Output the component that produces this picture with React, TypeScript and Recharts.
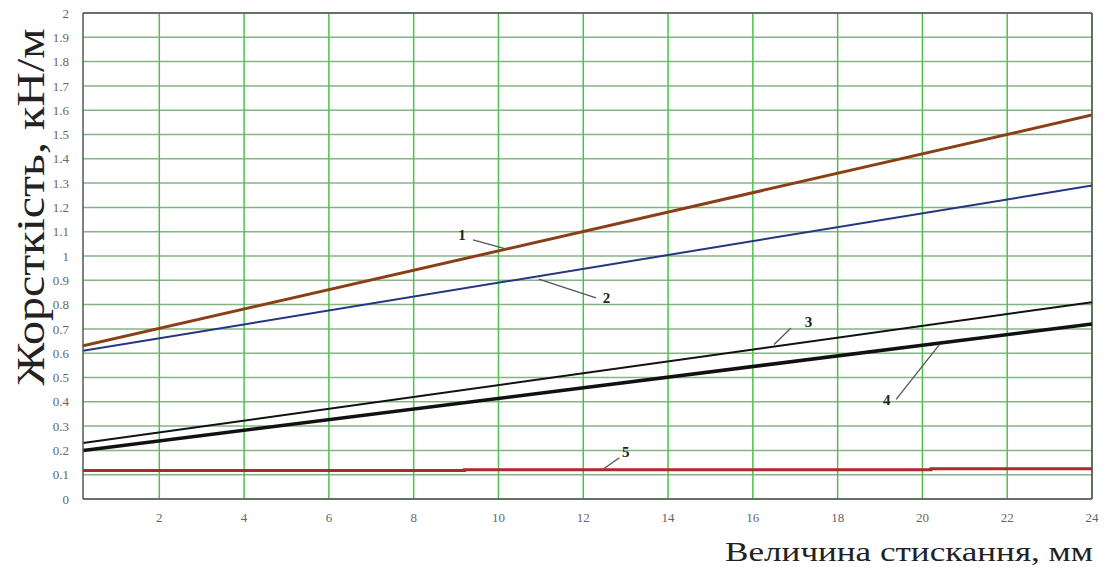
import {
  LineChart,
  Line,
  XAxis,
  YAxis,
  CartesianGrid,
  ReferenceLine,
  ReferenceDot,
} from 'recharts';

// Compression (mm) -> stiffness (kN/m) for each spring variant
const series1 = [
  { x: 0.2, y: 0.63 },
  { x: 24, y: 1.58 },
];
const series2 = [
  { x: 0.2, y: 0.61 },
  { x: 24, y: 1.29 },
];
const series3 = [
  { x: 0.2, y: 0.23 },
  { x: 24, y: 0.81 },
];
const series4 = [
  { x: 0.2, y: 0.2 },
  { x: 24, y: 0.72 },
];
const series5 = [
  { x: 0.2, y: 0.117 },
  { x: 9.2, y: 0.117 },
  { x: 9.2, y: 0.12 },
  { x: 20.2, y: 0.12 },
  { x: 20.2, y: 0.124 },
  { x: 24, y: 0.124 },
];

const xTicks = [2, 4, 6, 8, 10, 12, 14, 16, 18, 20, 22, 24];
const yTicks = [
  0, 0.1, 0.2, 0.3, 0.4, 0.5, 0.6, 0.7, 0.8, 0.9, 1, 1.1, 1.2, 1.3, 1.4, 1.5, 1.6, 1.7, 1.8, 1.9, 2,
];

// curve number labels with their leader lines (data coordinates)
const curveLabels = [
  { text: '1', x: 9.14, y: 1.086, from: [9.4, 1.066], to: [10.15, 1.03] },
  { text: '2', x: 12.55, y: 0.83, from: [12.3, 0.828], to: [10.95, 0.905] },
  { text: '3', x: 17.31, y: 0.728, from: [16.9, 0.704], to: [16.5, 0.636] },
  { text: '4', x: 19.16, y: 0.41, from: [19.38, 0.41], to: [20.4, 0.635] },
  { text: '5', x: 13.0, y: 0.193, from: [12.85, 0.17], to: [12.45, 0.12] },
];

const FONT = '"Liberation Serif", "Times New Roman", serif';

export default function App() {
  return (
    <div style={{ position: 'absolute', left: 0, top: 0, width: 1106, height: 567, background: '#fff' }}>
      <LineChart width={1106} height={567} margin={{ top: 13, right: 14, left: 0, bottom: 0 }}>
        <CartesianGrid
          stroke="#85b385"
          strokeWidth={1.5}
          horizontalValues={yTicks}
          verticalValues={xTicks}
          vertical={false}
        />
        <CartesianGrid
          stroke="#4cc24c"
          strokeWidth={1.5}
          verticalValues={xTicks}
          horizontal={false}
        />
        <XAxis
          type="number"
          dataKey="x"
          domain={[0.2, 24]}
          ticks={xTicks}
          allowDataOverflow
          height={68}
          tickLine={false}
          tickMargin={8}
          axisLine={{ stroke: '#555', strokeWidth: 1.5 }}
          tick={{ fill: '#666', fontSize: 13, fontFamily: FONT }}
        />
        <YAxis
          type="number"
          dataKey="y"
          domain={[0, 2]}
          ticks={yTicks}
          width={83}
          tickLine={false}
          tickMargin={8}
          interval={0}
          axisLine={{ stroke: '#555', strokeWidth: 1.5 }}
          tick={{ fill: '#666', fontSize: 13, fontFamily: FONT }}
        />
        <ReferenceLine y={2} stroke="#555" strokeWidth={1.5} />
        <ReferenceLine x={24} stroke="#555" strokeWidth={1.5} />

        <Line data={series1} dataKey="y" stroke="#8a3f16" strokeWidth={3} dot={false} isAnimationActive={false} />
        <Line data={series2} dataKey="y" stroke="#23367f" strokeWidth={2} dot={false} isAnimationActive={false} />
        <Line data={series3} dataKey="y" stroke="#111" strokeWidth={2} dot={false} isAnimationActive={false} />
        <Line data={series4} dataKey="y" stroke="#111" strokeWidth={3.5} dot={false} isAnimationActive={false} />
        <Line data={series5} dataKey="y" stroke="#b0282a" strokeWidth={3} dot={false} isAnimationActive={false} />

        {curveLabels.map((c) => (
          <ReferenceLine
            key={`l${c.text}`}
            segment={[
              { x: c.from[0], y: c.from[1] },
              { x: c.to[0], y: c.to[1] },
            ]}
            stroke="#555"
            strokeWidth={1.3}
          />
        ))}
        {curveLabels.map((c) => (
          <ReferenceDot
            key={`d${c.text}`}
            x={c.x}
            y={c.y}
            r={0}
            fill="none"
            stroke="none"
            label={{
              value: c.text,
              position: 'center',
              fill: '#222',
              fontSize: 15,
              fontWeight: 'bold',
              fontFamily: FONT,
            }}
          />
        ))}
      </LineChart>
      <div
        style={{
          position: 'absolute',
          left: 30,
          top: 207,
          transform: 'translate(-50%, -50%) rotate(-90deg) scaleX(1.17)',
          whiteSpace: 'nowrap',
          fontFamily: FONT,
          fontSize: 41,
          lineHeight: 1,
          color: '#222',
        }}
      >
        Жорсткість, кН/м
      </div>
      <div
        style={{
          position: 'absolute',
          right: 13,
          top: 538,
          whiteSpace: 'nowrap',
          fontFamily: FONT,
          fontSize: 27,
          lineHeight: 1.1,
          color: '#222',
          transform: 'scaleX(1.3)',
          transformOrigin: 'right center',
        }}
      >
        Величина стискання, мм
      </div>
    </div>
  );
}
